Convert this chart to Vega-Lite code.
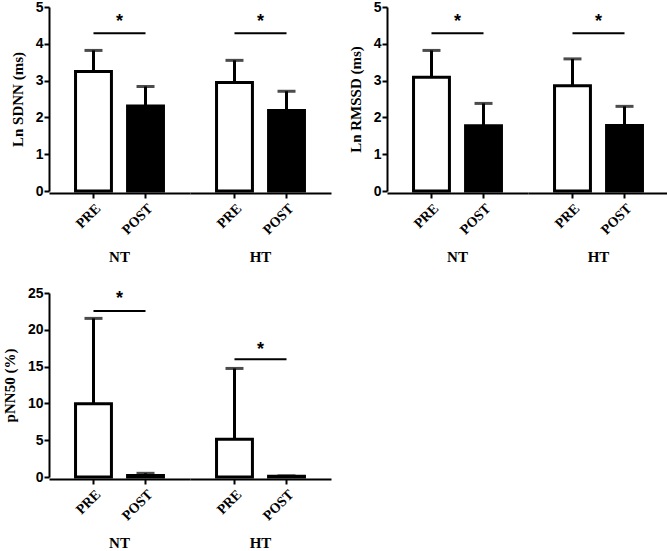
{
  "$schema": "https://vega.github.io/schema/vega-lite/v6.json",
  "background": "white",
  "padding": {"left": 2, "top": 0, "right": 5, "bottom": 0},
  "config": {
    "view": {"stroke": null},
    "axis": {"domainColor": "black", "domainWidth": 2, "tickColor": "black", "tickWidth": 2, "tickSize": 5, "grid": false, "labelColor": "black", "titleColor": "black"},
    "axisY": {"labelFont": "Liberation Sans", "labelFontWeight": "bold", "labelFontSize": 14, "labelPadding": 1, "titleFont": "Liberation Serif", "titleFontWeight": "bold", "titleFontSize": 15, "titlePadding": 10},
    "axisX": {"labelAngle": -45, "labelFont": "Liberation Serif", "labelFontWeight": "bold", "labelFontSize": 14, "labelPadding": 3}
  },
  "datasets": {
    "hrv": [
      {"measure": "SDNN", "kind": "bar", "group": "NT", "phase": "PRE", "mean": 3.25, "upper": 3.82},
      {"measure": "SDNN", "kind": "bar", "group": "NT", "phase": "POST", "mean": 2.31, "upper": 2.84},
      {"measure": "SDNN", "kind": "bar", "group": "HT", "phase": "PRE", "mean": 2.95, "upper": 3.55},
      {"measure": "SDNN", "kind": "bar", "group": "HT", "phase": "POST", "mean": 2.19, "upper": 2.71},
      {"measure": "SDNN", "kind": "sig", "group": "NT", "sigY": 4.29, "starY": 4.6},
      {"measure": "SDNN", "kind": "sig", "group": "HT", "sigY": 4.29, "starY": 4.6},
      {"measure": "RMSSD", "kind": "bar", "group": "NT", "phase": "PRE", "mean": 3.09, "upper": 3.82},
      {"measure": "RMSSD", "kind": "bar", "group": "NT", "phase": "POST", "mean": 1.77, "upper": 2.38},
      {"measure": "RMSSD", "kind": "bar", "group": "HT", "phase": "PRE", "mean": 2.86, "upper": 3.59},
      {"measure": "RMSSD", "kind": "bar", "group": "HT", "phase": "POST", "mean": 1.78, "upper": 2.30},
      {"measure": "RMSSD", "kind": "sig", "group": "NT", "sigY": 4.29, "starY": 4.6},
      {"measure": "RMSSD", "kind": "sig", "group": "HT", "sigY": 4.29, "starY": 4.6},
      {"measure": "pNN50", "kind": "bar", "group": "NT", "phase": "PRE", "mean": 9.94, "upper": 21.55},
      {"measure": "pNN50", "kind": "bar", "group": "NT", "phase": "POST", "mean": 0.2, "upper": 0.5},
      {"measure": "pNN50", "kind": "bar", "group": "HT", "phase": "PRE", "mean": 5.13, "upper": 14.75},
      {"measure": "pNN50", "kind": "bar", "group": "HT", "phase": "POST", "mean": 0.1, "upper": 0.15},
      {"measure": "pNN50", "kind": "sig", "group": "NT", "sigY": 22.55, "starY": 24.2},
      {"measure": "pNN50", "kind": "sig", "group": "HT", "sigY": 16.0, "starY": 17.3}
    ]
  },
  "spacing": 21,
  "vconcat": [
    {
      "spacing": 17,
      "hconcat": [
        {
          "data": {"name": "hrv"},
          "transform": [{"filter": "datum.measure === 'SDNN'"}],
          "spacing": 0,
          "facet": {"column": {"field": "group", "type": "nominal", "sort": ["NT", "HT"], "header": {"title": null, "labelOrient": "bottom", "labelFont": "Liberation Serif", "labelFontWeight": "bold", "labelFontSize": 15, "labelColor": "black", "labelPadding": 13}}},
          "spec": {
            "width": 141, "height": 184,
            "layer": [
              {"transform": [{"filter": "datum.kind === 'bar'"}], "mark": {"type": "rule", "strokeWidth": 3, "color": "black"},
               "encoding": {"x": {"field": "phase", "type": "nominal", "sort": ["PRE", "POST"], "scale": {"paddingInner": 0.31, "paddingOuter": 0.51}, "title": null},
                            "y": {"field": "mean", "type": "quantitative", "title": "Ln SDNN (ms)", "scale": {"domain": [0, 5], "nice": false}, "axis": {"values": [0, 1, 2, 3, 4, 5]}}, "y2": {"field": "upper"}}},
              {"transform": [{"filter": "datum.kind === 'bar'"}], "mark": {"type": "tick", "orient": "horizontal", "size": 18, "thickness": 3, "color": "black"},
               "encoding": {"x": {"field": "phase", "type": "nominal", "sort": ["PRE", "POST"], "title": null},
                            "y": {"field": "upper", "type": "quantitative", "title": "Ln SDNN (ms)", "axis": {"values": [0, 1, 2, 3, 4, 5]}}}},
              {"transform": [{"filter": "datum.kind === 'bar'"}], "mark": {"type": "bar", "stroke": "black", "strokeWidth": 3},
               "encoding": {"x": {"field": "phase", "type": "nominal", "sort": ["PRE", "POST"], "title": null},
                            "y": {"field": "mean", "type": "quantitative", "title": "Ln SDNN (ms)", "axis": {"values": [0, 1, 2, 3, 4, 5]}},
                            "fill": {"field": "phase", "type": "nominal", "scale": {"domain": ["PRE", "POST"], "range": ["white", "black"]}, "legend": null}}},
              {"transform": [{"filter": "datum.kind === 'sig'"}], "mark": {"type": "rule", "strokeWidth": 2, "color": "black"},
               "encoding": {"x": {"datum": "PRE", "type": "nominal"}, "x2": {"datum": "POST"}, "y": {"field": "sigY", "type": "quantitative", "title": "Ln SDNN (ms)", "axis": {"values": [0, 1, 2, 3, 4, 5]}}}},
              {"transform": [{"filter": "datum.kind === 'sig'"}], "mark": {"type": "text", "text": "*", "font": "Liberation Sans", "fontWeight": "bold", "fontSize": 18, "baseline": "middle", "color": "black"},
               "encoding": {"y": {"field": "starY", "type": "quantitative", "title": "Ln SDNN (ms)", "axis": {"values": [0, 1, 2, 3, 4, 5]}}}}
            ]
          }
        },
        {
          "data": {"name": "hrv"},
          "transform": [{"filter": "datum.measure === 'RMSSD'"}],
          "spacing": 0,
          "facet": {"column": {"field": "group", "type": "nominal", "sort": ["NT", "HT"], "header": {"title": null, "labelOrient": "bottom", "labelFont": "Liberation Serif", "labelFontWeight": "bold", "labelFontSize": 15, "labelColor": "black", "labelPadding": 13}}},
          "spec": {
            "width": 141, "height": 184,
            "layer": [
              {"transform": [{"filter": "datum.kind === 'bar'"}], "mark": {"type": "rule", "strokeWidth": 3, "color": "black"},
               "encoding": {"x": {"field": "phase", "type": "nominal", "sort": ["PRE", "POST"], "scale": {"paddingInner": 0.31, "paddingOuter": 0.51}, "title": null},
                            "y": {"field": "mean", "type": "quantitative", "title": "Ln RMSSD (ms)", "scale": {"domain": [0, 5], "nice": false}, "axis": {"values": [0, 1, 2, 3, 4, 5]}}, "y2": {"field": "upper"}}},
              {"transform": [{"filter": "datum.kind === 'bar'"}], "mark": {"type": "tick", "orient": "horizontal", "size": 18, "thickness": 3, "color": "black"},
               "encoding": {"x": {"field": "phase", "type": "nominal", "sort": ["PRE", "POST"], "title": null},
                            "y": {"field": "upper", "type": "quantitative", "title": "Ln RMSSD (ms)", "axis": {"values": [0, 1, 2, 3, 4, 5]}}}},
              {"transform": [{"filter": "datum.kind === 'bar'"}], "mark": {"type": "bar", "stroke": "black", "strokeWidth": 3},
               "encoding": {"x": {"field": "phase", "type": "nominal", "sort": ["PRE", "POST"], "title": null},
                            "y": {"field": "mean", "type": "quantitative", "title": "Ln RMSSD (ms)", "axis": {"values": [0, 1, 2, 3, 4, 5]}},
                            "fill": {"field": "phase", "type": "nominal", "scale": {"domain": ["PRE", "POST"], "range": ["white", "black"]}, "legend": null}}},
              {"transform": [{"filter": "datum.kind === 'sig'"}], "mark": {"type": "rule", "strokeWidth": 2, "color": "black"},
               "encoding": {"x": {"datum": "PRE", "type": "nominal"}, "x2": {"datum": "POST"}, "y": {"field": "sigY", "type": "quantitative", "title": "Ln RMSSD (ms)", "axis": {"values": [0, 1, 2, 3, 4, 5]}}}},
              {"transform": [{"filter": "datum.kind === 'sig'"}], "mark": {"type": "text", "text": "*", "font": "Liberation Sans", "fontWeight": "bold", "fontSize": 18, "baseline": "middle", "color": "black"},
               "encoding": {"y": {"field": "starY", "type": "quantitative", "title": "Ln RMSSD (ms)", "axis": {"values": [0, 1, 2, 3, 4, 5]}}}}
            ]
          }
        }
      ]
    },
    {
      "hconcat": [
        {
          "data": {"name": "hrv"},
          "transform": [{"filter": "datum.measure === 'pNN50'"}],
          "spacing": 0,
          "facet": {"column": {"field": "group", "type": "nominal", "sort": ["NT", "HT"], "header": {"title": null, "labelOrient": "bottom", "labelFont": "Liberation Serif", "labelFontWeight": "bold", "labelFontSize": 15, "labelColor": "black", "labelPadding": 13}}},
          "spec": {
            "width": 141, "height": 184,
            "layer": [
              {"transform": [{"filter": "datum.kind === 'bar'"}], "mark": {"type": "rule", "strokeWidth": 3, "color": "black"},
               "encoding": {"x": {"field": "phase", "type": "nominal", "sort": ["PRE", "POST"], "scale": {"paddingInner": 0.31, "paddingOuter": 0.51}, "title": null},
                            "y": {"field": "mean", "type": "quantitative", "title": "pNN50 (%)", "scale": {"domain": [0, 25], "nice": false}, "axis": {"values": [0, 5, 10, 15, 20, 25]}}, "y2": {"field": "upper"}}},
              {"transform": [{"filter": "datum.kind === 'bar'"}], "mark": {"type": "tick", "orient": "horizontal", "size": 18, "thickness": 3, "color": "black"},
               "encoding": {"x": {"field": "phase", "type": "nominal", "sort": ["PRE", "POST"], "title": null},
                            "y": {"field": "upper", "type": "quantitative", "title": "pNN50 (%)", "axis": {"values": [0, 5, 10, 15, 20, 25]}}}},
              {"transform": [{"filter": "datum.kind === 'bar'"}], "mark": {"type": "bar", "stroke": "black", "strokeWidth": 3},
               "encoding": {"x": {"field": "phase", "type": "nominal", "sort": ["PRE", "POST"], "title": null},
                            "y": {"field": "mean", "type": "quantitative", "title": "pNN50 (%)", "axis": {"values": [0, 5, 10, 15, 20, 25]}},
                            "fill": {"field": "phase", "type": "nominal", "scale": {"domain": ["PRE", "POST"], "range": ["white", "black"]}, "legend": null}}},
              {"transform": [{"filter": "datum.kind === 'sig'"}], "mark": {"type": "rule", "strokeWidth": 2, "color": "black"},
               "encoding": {"x": {"datum": "PRE", "type": "nominal"}, "x2": {"datum": "POST"}, "y": {"field": "sigY", "type": "quantitative", "title": "pNN50 (%)", "axis": {"values": [0, 5, 10, 15, 20, 25]}}}},
              {"transform": [{"filter": "datum.kind === 'sig'"}], "mark": {"type": "text", "text": "*", "font": "Liberation Sans", "fontWeight": "bold", "fontSize": 18, "baseline": "middle", "color": "black"},
               "encoding": {"y": {"field": "starY", "type": "quantitative", "title": "pNN50 (%)", "axis": {"values": [0, 5, 10, 15, 20, 25]}}}}
            ]
          }
        }
      ]
    }
  ]
}
